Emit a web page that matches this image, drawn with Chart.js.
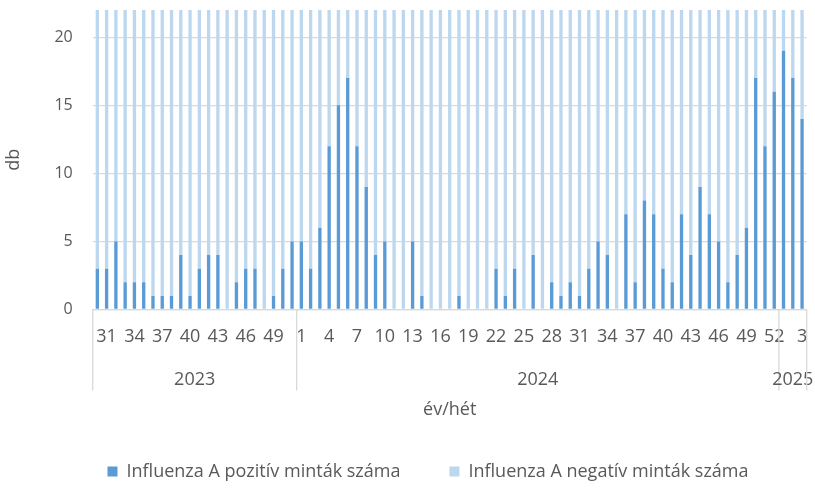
<!DOCTYPE html>
<html>
<head>
<meta charset="utf-8">
<script src="https://cdn.jsdelivr.net/npm/chart.js@4/dist/chart.umd.min.js"></script>
<style>
  html, body { margin: 0; padding: 0; background: #fff; }
</style>
</head>
<body>
<canvas id="chart" width="815" height="492"></canvas>
<script>
// categories: year groups and the weeks inside them
const years = ['2023', '2024', '2025'];
const weeks2023 = [30, 31, 32, 33, 34, 35, 36, 37, 38, 39, 40, 41, 42, 43, 44, 45, 46, 47, 48, 49, 50, 51];
const weeks2024 = [1, 2, 3, 4, 5, 6, 7, 8, 9, 10, 11, 12, 13, 14, 15, 16, 17, 18, 19, 20, 21, 22, 23, 24, 25, 26,
                   27, 28, 29, 30, 31, 32, 33, 34, 35, 36, 37, 38, 39, 40, 41, 42, 43, 44, 45, 46, 47, 48, 49, 50, 51, 52];
const weeks2025 = [1, 2, 3];

// Influenza A positive samples per week
const positive = [
  3, 3, 5, 2, 2, 2, 1, 1, 1, 4, 1, 3, 4, 4, 0, 2, 3, 3, 0, 1, 3, 5,
  5, 3, 6, 12, 15, 17, 12, 9, 4, 5, 0, 0, 5, 1, 0, 0, 0, 1, 0, 0, 0, 3, 1, 3, 0, 4, 0, 2,
  1, 2, 1, 3, 5, 4, 0, 7, 2, 8, 7, 3, 2, 7, 4, 9, 7, 5, 2, 4, 6, 17, 12, 16,
  19, 17, 14
];
// negative samples (above the axis range, only the clipped part is visible)
const negative = [
  38, 41, 36, 44, 40, 39, 42, 45, 37, 43, 46, 40, 38, 42, 47, 44, 39, 41, 45, 48, 43, 40,
  52, 49, 55, 61, 58, 63, 57, 54, 50, 47, 45, 43, 46, 42, 40, 38, 36, 39, 35, 34, 33, 36, 37, 35, 32, 34, 31, 33,
  30, 32, 34, 36, 38, 41, 39, 43, 45, 47, 44, 46, 48, 50, 49, 53, 51, 55, 52, 57, 59, 66, 62, 68,
  71, 64, 60
];

const groups = [
  { year: years[0], weeks: weeks2023 },
  { year: years[1], weeks: weeks2024 },
  { year: years[2], weeks: weeks2025 }
];
const labels = [];
groups.forEach(g => g.weeks.forEach(w => labels.push(String(w))));

const textColor = '#595959';
const gridColor = '#d9d9d9';
const fontFamily = '"Open Sans", sans-serif';

// year captions and separators under the week labels
const yearGroups = {
  id: 'yearGroups',
  afterDraw(chart) {
    const x = chart.scales.x;
    const ctx = chart.ctx;
    const top = chart.chartArea.bottom;
    const bottom = top + 81;
    const step = x.getPixelForValue(1) - x.getPixelForValue(0);

    ctx.save();
    ctx.strokeStyle = gridColor;
    ctx.lineWidth = 1.3;
    ctx.fillStyle = textColor;
    ctx.font = '18px ' + fontFamily;
    ctx.textAlign = 'center';
    ctx.textBaseline = 'middle';

    let idx = 0;
    let left = x.left;
    groups.forEach(g => {
      const last = idx + g.weeks.length - 1;
      const right = Math.min(x.getPixelForValue(last) + step / 2, x.right);
      ctx.beginPath();
      ctx.moveTo(left, top);
      ctx.lineTo(left, bottom);
      ctx.stroke();
      ctx.fillText(g.year, (left + right) / 2, top + 70);
      idx = last + 1;
      left = right;
    });
    ctx.beginPath();
    ctx.moveTo(x.right, top);
    ctx.lineTo(x.right, bottom);
    ctx.stroke();
    ctx.restore();
  }
};

new Chart(document.getElementById('chart'), {
  type: 'bar',
  data: {
    labels: labels,
    datasets: [
      {
        label: 'Influenza A pozitív minták száma',
        data: positive,
        backgroundColor: '#5b9bd5',
        borderWidth: 0,
        clip: 0
      },
      {
        label: 'Influenza A negatív minták száma',
        data: negative,
        backgroundColor: '#bdd7ee',
        borderWidth: 0,
        clip: 0
      }
    ]
  },
  options: {
    responsive: false,
    animation: false,
    barPercentage: 0.36,
    categoryPercentage: 1,
    // left padding pushes the legend right; y axis width makes up for it
    layout: { padding: { top: 10, right: 8.3, left: 49.3, bottom: 1.5 } },
    plugins: {
      tooltip: { enabled: false },
      legend: {
        position: 'bottom',
        labels: {
          boxWidth: 10,
          boxHeight: 10,
          padding: 49,
          color: textColor,
          font: { family: fontFamily, size: 18 }
        }
      }
    },
    scales: {
      x: {
        stacked: true,
        // tick marks only used as invisible spacing below the axis
        grid: { display: true, drawOnChartArea: false, drawTicks: true, tickLength: 17, tickColor: 'transparent' },
        border: { display: true, color: gridColor, width: 1.3 },
        ticks: {
          autoSkip: false,
          maxRotation: 0,
          padding: 0,
          color: textColor,
          font: { family: fontFamily, size: 18 },
          callback: (v, i) => (i % 3 === 1 ? labels[i] : '')
        },
        title: {
          display: true,
          text: 'év/hét',
          color: textColor,
          font: { family: fontFamily, size: 18 },
          padding: { top: 0, bottom: -7.3 }
        },
        afterFit: s => { s.height = 104; }
      },
      y: {
        stacked: true,
        min: 0,
        max: 22,
        grid: { color: gridColor, lineWidth: 1.3, drawTicks: true, tickLength: 20, tickColor: 'transparent' },
        border: { display: false },
        ticks: {
          stepSize: 5,
          includeBounds: false,
          padding: 0,
          color: textColor,
          font: { family: fontFamily, size: 16 }
        },
        title: {
          display: true,
          text: 'db',
          color: textColor,
          font: { family: fontFamily, size: 18 },
          padding: { top: -46.6, bottom: 0 }
        },
        afterFit: s => { s.width = 43.4; }
      }
    }
  },
  plugins: [yearGroups]
});
</script>
</body>
</html>
